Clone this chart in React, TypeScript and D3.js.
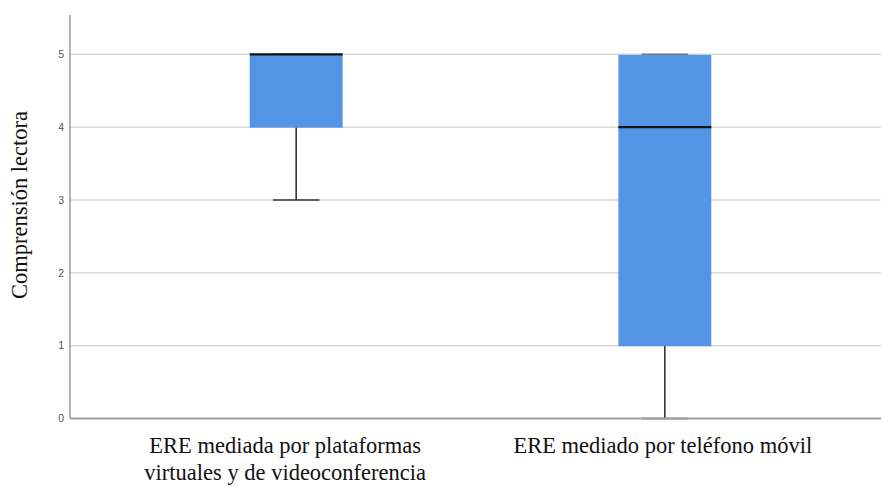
import React from "react";
import * as d3 from "d3";

const categories = ["plataformas", "movil"];
const categoryLabelLines = [
  ["ERE mediada por plataformas", "virtuales y de videoconferencia"],
  ["ERE mediado por teléfono móvil"],
];
const whiskerLow = [3, 0];
const q1 = [4, 1];
const median = [5, 4];
const q3 = [5, 5];
const whiskerHigh = [5, 5];
const yTicks = [0, 1, 2, 3, 4, 5];
const yTitle = "Comprensión lectora";

export default function App() {
  const W = 881;
  const H = 487;
  const left = 70;
  const right = 881;
  const y = d3.scaleLinear().domain([0, 5.54]).range([418.5, 15]);
  const x = d3.scalePoint<string>().domain(categories).range([75, 886]).padding(0.6);
  const step = x.step();
  const boxW = step * 0.252;
  const capW = boxW * 0.5;
  const boxColor = "#5494e4";
  const labelDx = [-11, -2];

  return (
    <svg width={W} height={H} style={{ position: "absolute", left: 0, top: 0, background: "#fff" }}>
      {yTicks.filter((t) => t > 0).map((t) => (
        <line key={"g" + t} x1={left} x2={right} y1={y(t)} y2={y(t)} stroke="#d9d9d9" strokeWidth={1.5} />
      ))}
      {yTicks.map((t) => (
        <text key={"t" + t} x={64} y={y(t)} dy="0.35em" textAnchor="end" fontFamily="Liberation Sans, Arial, sans-serif" fontSize={10.5} fill="#555">
          {t}
        </text>
      ))}
      {categories.map((c, i) => {
        const cx = x(c)!;
        return (
          <g key={c}>
            <line x1={cx} x2={cx} y1={y(q1[i])} y2={y(whiskerLow[i])} stroke="#333" strokeWidth={1.6} />
            <line x1={cx - capW / 2} x2={cx + capW / 2} y1={y(whiskerLow[i])} y2={y(whiskerLow[i])} stroke="#333" strokeWidth={1.6} />
            <line x1={cx} x2={cx} y1={y(q3[i])} y2={y(whiskerHigh[i])} stroke="#333" strokeWidth={1.6} />
            <line x1={cx - capW / 2} x2={cx + capW / 2} y1={y(whiskerHigh[i])} y2={y(whiskerHigh[i])} stroke="#777" strokeWidth={1.6} />
            <rect x={cx - boxW / 2} y={y(q3[i]) + 0.5} width={boxW} height={y(q1[i]) - y(q3[i])} fill={boxColor} />
            <line x1={cx - boxW / 2} x2={cx + boxW / 2} y1={y(median[i])} y2={y(median[i])} stroke="#111" strokeWidth={2.2} />
          </g>
        );
      })}
      <line x1={left} x2={left} y1={y(5.54)} y2={y(0)} stroke="#9a9a9a" strokeWidth={1.5} />
      <line x1={left} x2={right} y1={y(0)} y2={y(0)} stroke="#a0a0a0" strokeWidth={2} />
      {categories.map((c, i) => (
        <text key={"xl" + c} y={453} textAnchor="middle" fontFamily="'Liberation Serif', 'Times New Roman', serif" fontSize={22.5} fill="#111">
          {categoryLabelLines[i].map((l, j) => (
            <tspan key={j} x={x(c)! + labelDx[i]} dy={j === 0 ? 0 : 27}>
              {l}
            </tspan>
          ))}
        </text>
      ))}
      <text transform={`translate(27, ${205}) rotate(-90)`} textAnchor="middle" fontFamily="'Liberation Serif', 'Times New Roman', serif" fontSize={22.5} fill="#111">
        {yTitle}
      </text>
    </svg>
  );
}
